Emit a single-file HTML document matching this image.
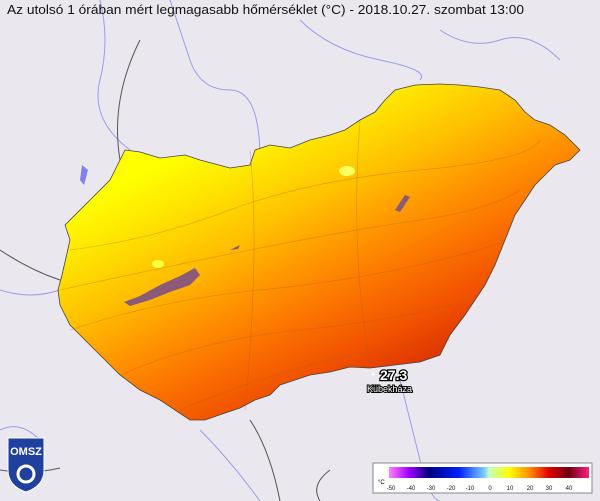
<!DOCTYPE html>
<html><head><meta charset="utf-8"><style>
html,body{margin:0;padding:0;background:#eae8ee;}
svg{display:block}
text{font-family:"Liberation Sans",sans-serif;}
</style></head><body>
<svg width="600" height="501" viewBox="0 0 600 501" xmlns="http://www.w3.org/2000/svg">
<defs>
<linearGradient id="g" gradientUnits="userSpaceOnUse" x1="170" y1="160" x2="300" y2="420">
<stop offset="0" stop-color="#ffff00"/>
<stop offset="0.15" stop-color="#ffe600"/>
<stop offset="0.35" stop-color="#ffc000"/>
<stop offset="0.52" stop-color="#ff9800"/>
<stop offset="0.7" stop-color="#fb7200"/>
<stop offset="0.88" stop-color="#f05000"/>
<stop offset="1" stop-color="#e03800"/>
</linearGradient>
<linearGradient id="leg" x1="0" x2="1" y1="0" y2="0">
<stop offset="0" stop-color="#ff80ff"/>
<stop offset="0.1" stop-color="#a000ff"/>
<stop offset="0.2" stop-color="#000080"/>
<stop offset="0.35" stop-color="#0020ff"/>
<stop offset="0.48" stop-color="#80d0ff"/>
<stop offset="0.5" stop-color="#c0ffc0"/>
<stop offset="0.6" stop-color="#ffff00"/>
<stop offset="0.7" stop-color="#ff9000"/>
<stop offset="0.8" stop-color="#e00000"/>
<stop offset="0.9" stop-color="#700010"/>
<stop offset="1" stop-color="#ff2080"/>
</linearGradient>
</defs>
<rect width="600" height="501" fill="#eae8ee"/>
<g fill="none" stroke="#9a9aee" stroke-width="1">
<path d="M100 0 Q110 40 100 80 T130 150"/>
<path d="M170 0 Q180 30 190 60 T230 90 T260 160"/>
<path d="M440 30 Q470 50 500 40 T560 60"/>
<path d="M0 290 Q30 300 60 290"/>
<path d="M400 380 Q410 420 420 460 T440 501"/>
<path d="M0 430 Q20 420 40 440"/>
<path d="M300 20 Q330 50 380 60 T420 80"/>
<path d="M200 430 Q230 460 260 501"/>
</g>
<g fill="none" stroke="#555" stroke-width="1">
<path d="M0 250 Q30 270 60 280"/>
<path d="M250 420 Q270 450 280 501"/>
<path d="M330 470 Q310 485 320 501"/>
<path d="M0 470 Q30 475 60 468"/>
<path d="M120 160 Q110 100 140 40"/>
</g>
<path fill="url(#g)" stroke="#444" stroke-width="0.8" d="M70 240 L65 225 L80 210 L95 195 L110 180 L120 160 L125 150 L140 152 L160 158 L185 155 L200 160 L230 168 L250 165 L255 150 L270 145 L290 148 L310 140 L330 135 L345 130 L360 120 L375 112 L385 100 L395 90 L415 85 L440 84 L460 85 L480 87 L500 90 L515 100 L525 112 L535 120 L550 125 L565 135 L580 150 L570 160 L555 165 L545 175 L535 185 L525 200 L515 215 L505 240 L495 265 L485 285 L475 300 L465 315 L450 335 L440 355 L420 362 L395 365 L370 368 L350 367 L330 372 L310 375 L295 380 L280 385 L270 395 L255 400 L240 408 L225 413 L205 420 L190 420 L175 410 L160 400 L140 390 L120 375 L100 355 L85 340 L70 325 L60 305 L58 290 L62 275 Z"/>
<g fill="none" stroke="#b05a20" stroke-opacity="0.35" stroke-width="0.8">
<path d="M70 250 Q150 240 230 210 T420 170 T540 140"/>
<path d="M60 290 Q150 270 250 250 T420 220 T520 190"/>
<path d="M70 330 Q160 300 260 290 T440 260 T500 240"/>
<path d="M120 375 Q200 340 300 330 T470 300"/>
<path d="M180 410 Q250 380 330 360 T450 340"/>
<path d="M250 150 Q260 250 245 410"/>
<path d="M360 120 Q350 250 370 365"/>
</g>
<path fill="#8a5a78" d="M124 302 L140 296 L160 285 L180 276 L195 268 L200 275 L190 285 L170 292 L150 300 L130 306 Z"/>
<path fill="#8a5a78" d="M230 250 L240 245 L238 249 Z"/>
<path fill="#8a5a78" d="M395 210 L405 195 L410 197 L400 212 Z"/>
<path fill="#8080ee" d="M82 165 L88 170 L84 185 L80 180 Z"/>
<ellipse cx="347" cy="171" rx="8" ry="5" fill="#ffff60"/>
<ellipse cx="158" cy="264" rx="6" ry="4" fill="#ffff40"/>
<circle cx="373" cy="374" r="1.5" fill="#fff"/>
<text x="380" y="380" font-size="14" font-weight="bold" fill="#fff" stroke="#000" stroke-width="2.5" paint-order="stroke">27.3</text>
<text x="367" y="392" font-size="9" fill="#fff" stroke="#000" stroke-width="2" paint-order="stroke">Kübekháza</text>
<text x="7" y="14" font-size="13" fill="#111" textLength="517" lengthAdjust="spacingAndGlyphs">Az utolsó 1 órában mért legmagasabb hőmérséklet (°C) - 2018.10.27. szombat 13:00</text>
<path d="M8 438 L44 438 L44 470 Q44 486 26 492 Q8 486 8 470 Z" fill="#2040a0" stroke="#fff" stroke-width="1"/>
<text x="26" y="455" font-size="11" font-weight="bold" fill="#fff" text-anchor="middle">OMSZ</text>
<circle cx="26" cy="474" r="8" fill="none" stroke="#fff" stroke-width="3"/>
<rect x="373" y="463" width="219" height="30" fill="#fff" stroke="#888"/>
<rect x="389" y="467" width="200" height="11" fill="url(#leg)"/>
<text x="378" y="484" font-size="6">°C</text>
<g font-size="6" text-anchor="middle" fill="#111">
<text x="391" y="490">-50</text><text x="411" y="490">-40</text><text x="431" y="490">-30</text><text x="451" y="490">-20</text><text x="470" y="490">-10</text><text x="490" y="490">0</text><text x="510" y="490">10</text><text x="530" y="490">20</text><text x="549" y="490">30</text><text x="569" y="490">40</text>
</g>
</svg>
</body></html>
